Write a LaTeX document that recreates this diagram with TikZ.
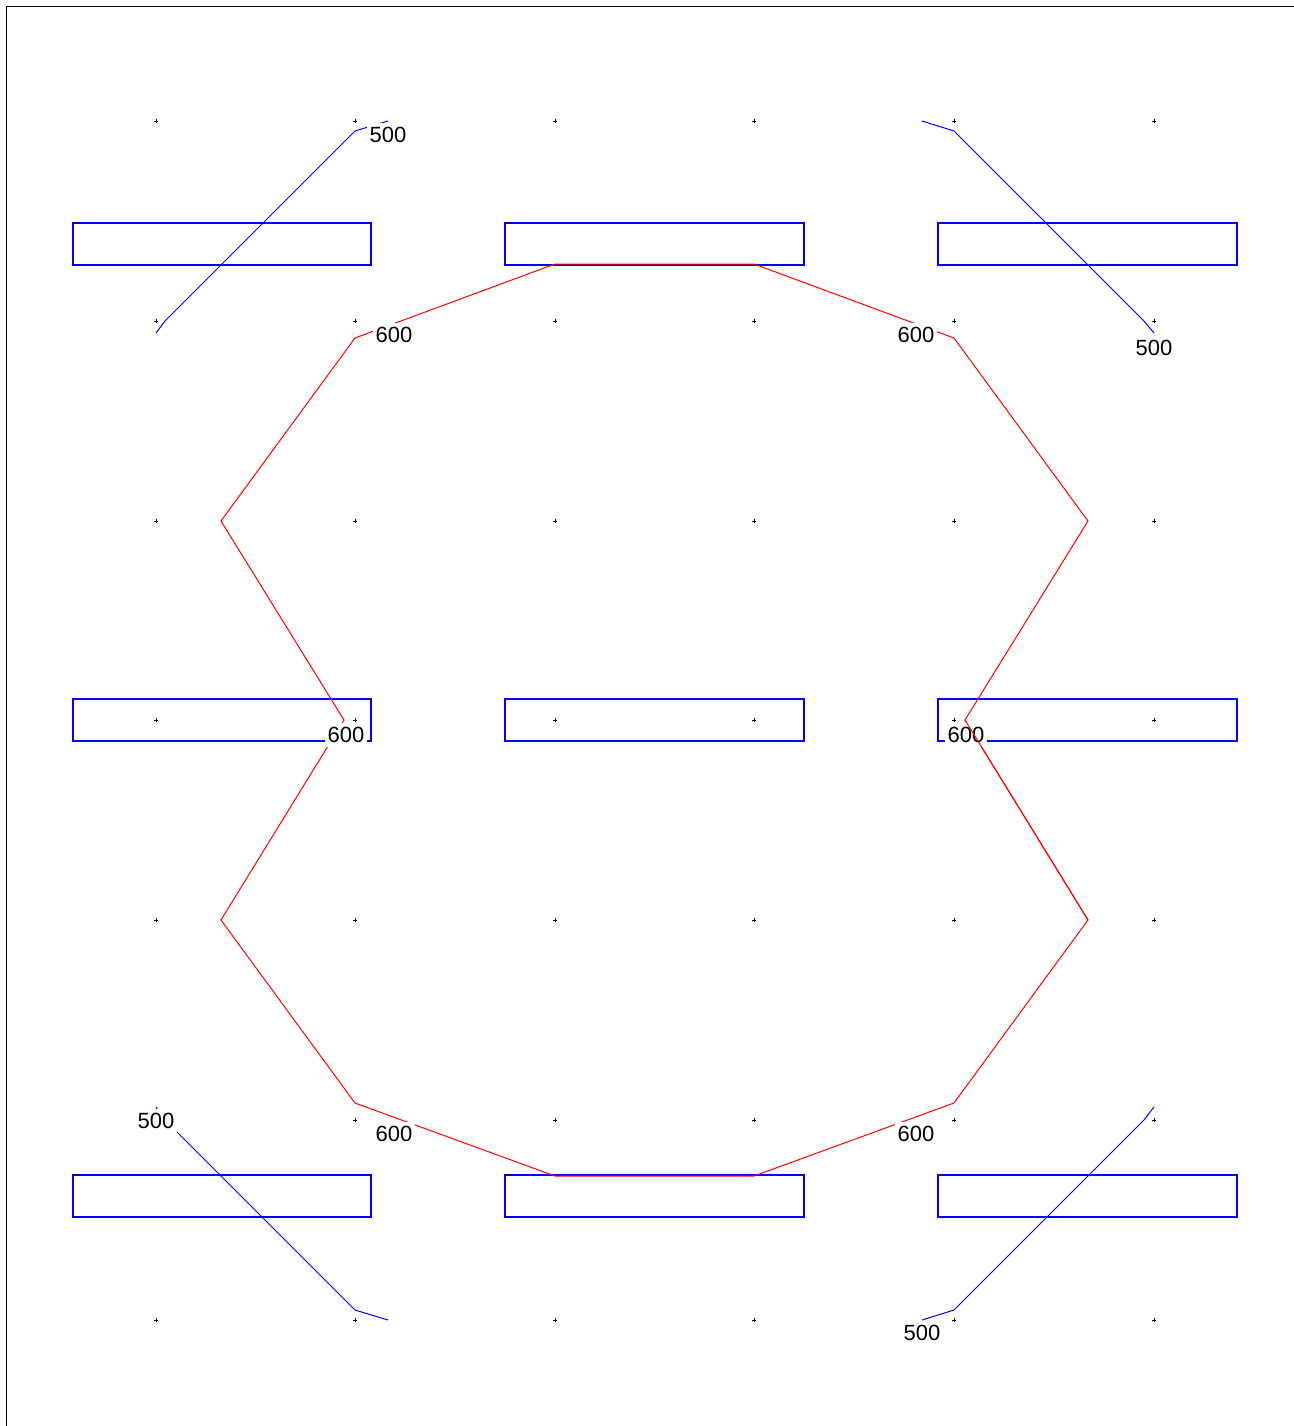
\documentclass[tikz,border=0pt]{standalone}
\usepackage{fontspec}
\setmainfont{Liberation Sans}
\begin{document}
\begin{tikzpicture}[x=0.5pt,y=-0.5pt,
  gridmark/.style={black,line width=0.4pt},
  slab/.style={draw=blue,line width=1pt},
  bluepath/.style={blue,line width=0.5pt},
  redpath/.style={red,line width=0.5pt},
  lab/.style={fill=white,inner xsep=1.2pt,inner ysep=2pt,font=\fontsize{11}{13}\selectfont}]
\useasboundingbox (0,0) rectangle (1294,1426);
% frame
\draw[black,line width=0.5pt] (6,1426) -- (6,6) -- (1294,6);
% grid marks
\foreach \gx in {156,355,555,754,954,1154}
  \foreach \gy in {121,321,521,720,920,1120,1320}
    \draw[gridmark] (\gx-2,\gy) -- (\gx+2,\gy) (\gx,\gy-2) -- (\gx,\gy+2);
% rectangles
\foreach \ry in {223,699,1175}{
  \draw[slab] (73,\ry) rectangle (371,\ry+42);
  \draw[slab] (505,\ry) rectangle (804,\ry+42);
  \draw[slab] (938,\ry) rectangle (1237,\ry+42);
}
% blue lines
\coordinate (a0) at (156,333); \coordinate (a1) at (165,321);
\coordinate (a2) at (355,131); \coordinate (a3) at (388,121);
\coordinate (b0) at (922,121); \coordinate (b1) at (954,131);
\coordinate (b2) at (1144,321); \coordinate (b3) at (1154,333);
\coordinate (c0) at (922,1320); \coordinate (c1) at (954,1310);
\coordinate (c2) at (1144,1120); \coordinate (c3) at (1154,1107);
\coordinate (d0) at (156,1107); \coordinate (d1) at (165,1120);
\coordinate (d2) at (355,1310); \coordinate (d3) at (388,1320);
\draw[bluepath] (a0) -- (a1) -- (a2) -- (a3);
\draw[bluepath] (b0) -- (b1) -- (b2) -- (b3);
\draw[bluepath] (c0) -- (c1) -- (c2) -- (c3);
\draw[bluepath] (d0) -- (d1) -- (d2) -- (d3);
% red polygon
\coordinate (T1) at (555,264); \coordinate (T2) at (754,264);
\coordinate (R1) at (954,338); \coordinate (R2) at (1088,521);
\coordinate (R3) at (965,720); \coordinate (R4) at (1088,920);
\coordinate (R5) at (954,1103); \coordinate (B2) at (754,1176);
\coordinate (B1) at (555,1176); \coordinate (L5) at (355,1103);
\coordinate (L4) at (221,920); \coordinate (L3) at (344,720);
\coordinate (L2) at (221,521); \coordinate (L1) at (355,338);
\draw[redpath] (T1) -- (T2) -- (R1) -- (R2) -- (R3) -- (R4) -- (R5) -- (B2)
  -- (B1) -- (L5) -- (L4) -- (L3) -- (L2) -- (L1) -- cycle;
% labels
\node[lab] (l500a) at (388,135) {500};
\node[lab] (l500b) at (1154,348) {500};
\node[lab] (l500c) at (156,1121) {500};
\node[lab] (l500d) at (922,1333) {500};
\node[lab] (l600a) at (394,335) {600};
\node[lab] (l600b) at (916,335) {600};
\node[lab] (l600c) at (346,735) {600};
\node[lab] (l600d) at (966,735) {600};
\node[lab] (l600e) at (394,1134) {600};
\node[lab] (l600f) at (916,1134) {600};
% segment drawn over its label
\draw[redpath] (R3) -- (R4);
\end{tikzpicture}
\end{document}
